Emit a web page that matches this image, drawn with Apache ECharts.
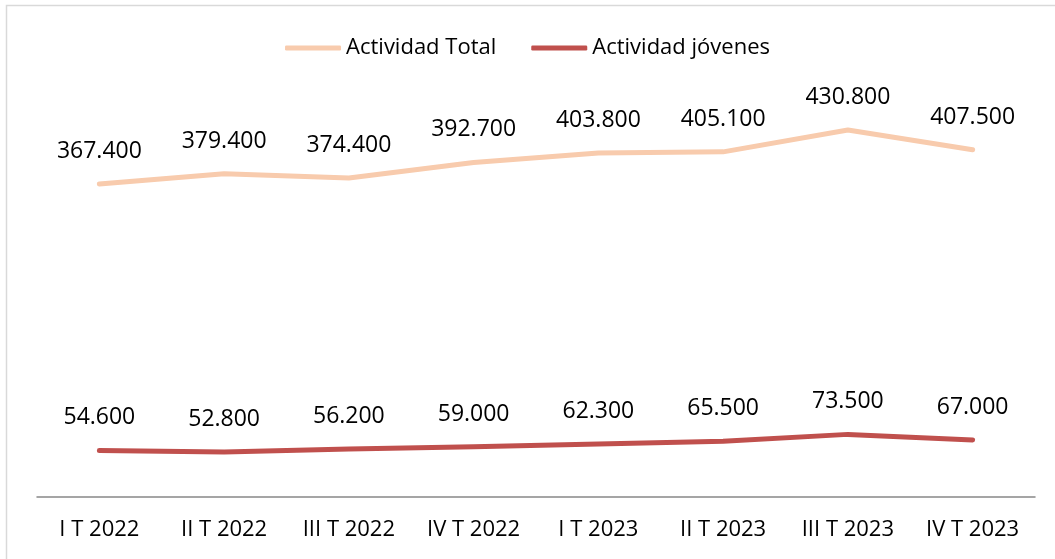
<!DOCTYPE html>
<html>
<head>
<meta charset="utf-8">
<script src="https://cdn.jsdelivr.net/npm/echarts@6/dist/echarts.min.js"></script>
<style>
  html, body { margin: 0; padding: 0; background: #fff; }
  #chart { width: 1055px; height: 559px; }
</style>
</head>
<body>
<div id="chart"></div>
<script>
var categories = ['I T 2022', 'II T 2022', 'III T 2022', 'IV T 2022', 'I T 2023', 'II T 2023', 'III T 2023', 'IV T 2023'];
var actividadTotal = [367400, 379400, 374400, 392700, 403800, 405100, 430800, 407500];
var actividadJovenes = [54600, 52800, 56200, 59000, 62300, 65500, 73500, 67000];

function fmt(v) {
  return String(v).replace(/\B(?=(\d{3})+(?!\d))/g, '.');
}

var chart = echarts.init(document.getElementById('chart'));
var font = '"Open Sans", "Noto Sans", sans-serif';

function lineSeries(name, data, color) {
  return {
    name: name,
    type: 'line',
    data: data,
    symbol: 'circle',
    symbolSize: 0.1,
    showSymbol: true,
    lineStyle: { color: color, width: 5, cap: 'round', join: 'round' },
    itemStyle: { color: color },
    label: {
      show: true,
      position: 'top',
      distance: 21,
      fontSize: 23,
      color: '#000',
      fontFamily: font,
      formatter: function (p) { return fmt(p.value); }
    }
  };
}

var option = {
  animation: false,
  textStyle: { fontFamily: font },
  graphic: [{
    type: 'rect',
    shape: { x: 6.5, y: 5.5, width: 1200, height: 800 },
    style: { fill: null, stroke: '#d9d9d9', lineWidth: 1.5 },
    silent: true
  }],
  legend: {
    top: 32,
    left: 'center',
    icon: 'roundRect',
    itemWidth: 56,
    itemHeight: 5,
    itemGap: 35,
    textStyle: { fontSize: 22, color: '#000', fontFamily: font },
    data: ['Actividad Total', 'Actividad jóvenes']
  },
  grid: { left: 37, right: 20, top: 71, bottom: 62 },
  xAxis: {
    type: 'category',
    data: categories,
    boundaryGap: true,
    axisLine: { lineStyle: { color: '#888', width: 1.5 } },
    axisTick: { show: false },
    axisLabel: { fontSize: 22, color: '#000', margin: 22, fontFamily: font }
  },
  yAxis: {
    type: 'value',
    min: 0,
    max: 500000,
    interval: 100000,
    show: false,
    splitLine: { show: false }
  },
  series: [
    lineSeries('Actividad Total', actividadTotal, '#F8CBAD'),
    lineSeries('Actividad jóvenes', actividadJovenes, '#C0504D')
  ]
};

chart.setOption(option);
</script>
</body>
</html>
